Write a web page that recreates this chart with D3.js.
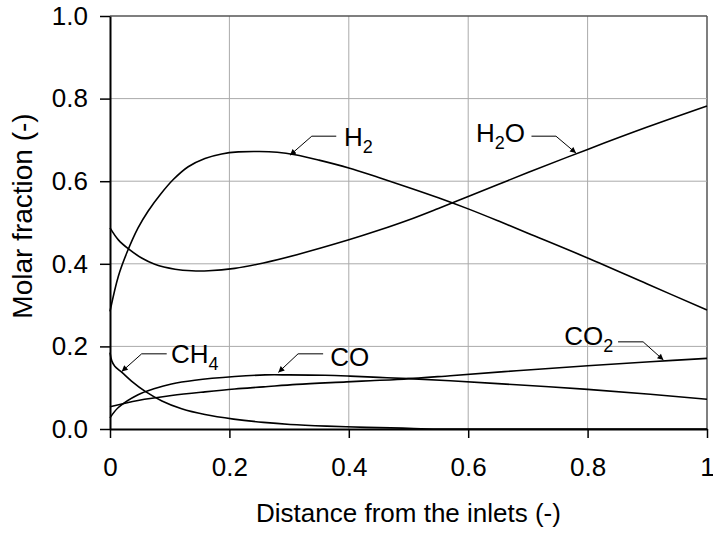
<!DOCTYPE html>
<html>
<head>
<meta charset="utf-8">
<script src="https://cdn.jsdelivr.net/npm/d3@7/dist/d3.min.js"></script>
<style>
  html, body { margin: 0; padding: 0; background: #fff; }
  svg { display: block; font-family: "Liberation Sans", Arial, Helvetica, sans-serif; }
</style>
</head>
<body>
<svg id="chart" width="713" height="535"></svg>
<script>
// Species profiles along the reactor (distance normalised 0..1)
const h2Dist  = [0, 0.014, 0.028, 0.047, 0.064, 0.085, 0.106, 0.131, 0.159, 0.187, 0.215, 0.25, 0.28, 0.31, 0.35, 0.4, 0.45, 0.5, 0.55, 0.6, 0.65, 0.7, 0.8, 0.9, 1.0];
const h2Frac  = [0.285, 0.37, 0.426, 0.487, 0.528, 0.569, 0.604, 0.635, 0.655, 0.666, 0.671, 0.672, 0.670, 0.664, 0.651, 0.632, 0.609, 0.585, 0.560, 0.533, 0.504, 0.474, 0.414, 0.351, 0.288];

const h2oDist = [0, 0.014, 0.031, 0.053, 0.075, 0.109, 0.137, 0.165, 0.209, 0.257, 0.313, 0.4, 0.45, 0.5, 0.55, 0.6, 0.65, 0.7, 0.8, 0.9, 1.0];
const h2oFrac = [0.487, 0.458, 0.436, 0.414, 0.399, 0.387, 0.383, 0.383, 0.389, 0.402, 0.422, 0.458, 0.481, 0.506, 0.534, 0.563, 0.592, 0.621, 0.677, 0.731, 0.782];

const ch4Dist = [0, 0.003, 0.008, 0.02, 0.036, 0.059, 0.087, 0.12, 0.159, 0.207, 0.257, 0.302, 0.363, 0.43, 0.49, 0.55, 0.7, 1.0];
const ch4Frac = [0.185, 0.165, 0.152, 0.137, 0.116, 0.091, 0.068, 0.049, 0.035, 0.024, 0.016, 0.011, 0.007, 0.004, 0.002, 0.0, 0.0, 0.0];

const coDist  = [0, 0.014, 0.047, 0.075, 0.103, 0.142, 0.209, 0.26, 0.3, 0.36, 0.402, 0.45, 0.5, 0.57, 0.681, 0.8, 0.905, 1.0];
const coFrac  = [0.027, 0.052, 0.083, 0.098, 0.109, 0.118, 0.127, 0.131, 0.131, 0.13, 0.128, 0.125, 0.122, 0.117, 0.107, 0.096, 0.084, 0.072];

const co2Dist = [0, 0.047, 0.103, 0.159, 0.209, 0.257, 0.313, 0.396, 0.436, 0.481, 0.57, 0.681, 0.8, 0.905, 1.0];
const co2Frac = [0.054, 0.069, 0.081, 0.090, 0.097, 0.102, 0.108, 0.114, 0.117, 0.12, 0.129, 0.141, 0.153, 0.163, 0.171];

// Axis ticks
const xTicks = [0, 0.2, 0.4, 0.6, 0.8, 1];
const xTickLabels = ["0", "0.2", "0.4", "0.6", "0.8", "1"];
const yTicks = [0, 0.2, 0.4, 0.6, 0.8, 1.0];
const yTickLabels = ["0.0", "0.2", "0.4", "0.6", "0.8", "1.0"];

// Callout labels: text, subscript, trailing text, arrow tip, elbow, leader end, label anchor (data units)
const calloutNames = ["H", "H", "CH", "CO", "CO"];
const calloutSubs  = ["2", "2", "4", "", "2"];
const calloutTails = ["", "O", "", "", ""];
const calloutTip   = [[0.3015, 0.663], [0.7806, 0.668], [0.0196, 0.139], [0.282, 0.137], [0.927, 0.167]];
const calloutElbow = [[0.338, 0.709], [0.747, 0.709], [0.053, 0.182], [0.315, 0.182], [0.893, 0.211]];
const calloutEnd   = [[0.379, 0.709], [0.706, 0.709], [0.095, 0.182], [0.357, 0.182], [0.851, 0.211]];
const calloutText  = [[0.392, 0.685], [0.695, 0.696], [0.102, 0.161], [0.369, 0.153], [0.843, 0.203]];
const calloutAnchor = ["start", "end", "start", "start", "end"];

const svg = d3.select("#chart");
const plotLeft = 110, plotRight = 707, plotTop = 16, plotBottom = 429;
const x = d3.scaleLinear().domain([0, 1]).range([plotLeft, plotRight]);
const y = d3.scaleLinear().domain([0, 1]).range([plotBottom, plotTop]);

// Grid
const grid = svg.append("g");
grid.selectAll(".gx").data(xTicks.slice(1)).join("line")
  .attr("x1", d => x(d)).attr("x2", d => x(d))
  .attr("y1", y(0)).attr("y2", y(1))
  .attr("stroke", d => d === 1 ? "#555" : "#aaa")
  .attr("stroke-width", d => d === 1 ? 1.5 : 1);
grid.selectAll(".gy").data(yTicks.slice(1)).join("line")
  .attr("y1", d => y(d)).attr("y2", d => y(d))
  .attr("x1", x(0)).attr("x2", x(1))
  .attr("stroke", d => d === 1 ? "#555" : "#aaa")
  .attr("stroke-width", d => d === 1 ? 1.5 : 1);

// Axes
const fontSize = 26;
const xAxis = d3.axisBottom(x).tickValues(xTicks)
  .tickFormat((d, i) => xTickLabels[i]).tickSize(9).tickPadding(20).tickSizeOuter(0);
const yAxis = d3.axisLeft(y).tickValues(yTicks)
  .tickFormat((d, i) => yTickLabels[i]).tickSize(10).tickPadding(12).tickSizeOuter(0);

const gx = svg.append("g").attr("transform", `translate(0,${plotBottom})`).call(xAxis);
const gy = svg.append("g").attr("transform", `translate(${plotLeft},0)`).call(yAxis);
[gx, gy].forEach(g => {
  g.select(".domain").attr("stroke", "#000").attr("stroke-width", 2);
  g.selectAll(".tick line").attr("stroke", "#000").attr("stroke-width", 1.5);
  g.selectAll(".tick text").attr("fill", "#000").style("font-size", fontSize + "px")
    .style("font-family", "'Liberation Sans', Arial, Helvetica, sans-serif");
});

// Axis titles
svg.append("text")
  .attr("x", (plotLeft + plotRight) / 2).attr("y", 522)
  .attr("text-anchor", "middle").style("font-size", fontSize + "px")
  .text("Distance from the inlets (-)");
svg.append("text")
  .attr("transform", `translate(32,216) rotate(-90)`)
  .attr("text-anchor", "middle").style("font-size", "28px")
  .text("Molar fraction (-)");

// Curves
const series = [
  [h2Dist, h2Frac], [h2oDist, h2oFrac], [ch4Dist, ch4Frac], [coDist, coFrac], [co2Dist, co2Frac]
];
const line = d3.line().x(d => x(d[0])).y(d => y(d[1])).curve(d3.curveCatmullRom.alpha(0.5));
svg.append("g").selectAll("path").data(series).join("path")
  .attr("d", s => line(s[0].map((d, i) => [d, s[1][i]])))
  .attr("fill", "none").attr("stroke", "#000").attr("stroke-width", 1.6)
  .attr("stroke-linejoin", "round");

// Arrowhead marker
svg.append("defs").append("marker")
  .attr("id", "arrow").attr("viewBox", "0 0 10 10")
  .attr("refX", 10).attr("refY", 5)
  .attr("markerWidth", 8).attr("markerHeight", 6)
  .attr("markerUnits", "userSpaceOnUse")
  .attr("orient", "auto")
  .append("path").attr("d", "M0,0 L10,5 L0,10 Z").attr("fill", "#000");

// Callouts
const callouts = svg.append("g");
calloutNames.forEach((name, i) => {
  const pts = [calloutEnd[i], calloutElbow[i], calloutTip[i]].map(p => [x(p[0]), y(p[1])]);
  callouts.append("path")
    .attr("d", d3.line()(pts))
    .attr("fill", "none").attr("stroke", "#000").attr("stroke-width", 1)
    .attr("marker-end", "url(#arrow)");
  const t = callouts.append("text")
    .attr("x", x(calloutText[i][0])).attr("y", y(calloutText[i][1]))
    .attr("text-anchor", calloutAnchor[i])
    .style("font-size", "26px");
  t.append("tspan").text(name);
  if (calloutSubs[i]) {
    t.append("tspan").attr("dy", 7).style("font-size", "18px").text(calloutSubs[i]);
  }
  if (calloutTails[i]) {
    t.append("tspan").attr("dy", -7).text(calloutTails[i]);
  }
});
</script>
</body>
</html>
